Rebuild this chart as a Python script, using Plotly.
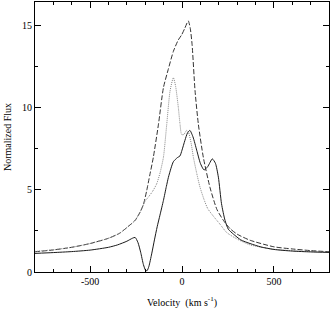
import plotly.graph_objects as go

# Solid profile
solid_v = [-800, -700, -600, -500, -400, -350, -300, -270, -255, -240, -225, -210, -198, -190, -180, -165, -150, -135, -120, -101, -85, -74, -60, -47, -25, -11, 0, 16, 30, 43, 60, 80, 100, 120, 140, 165, 182, 198, 215, 234, 252, 280, 320, 370, 430, 500, 600, 700, 800]
solid_f = [1.13, 1.18, 1.24, 1.33, 1.5, 1.65, 1.87, 2.05, 2.1, 1.8, 1.2, 0.45, 0.1, 0.08, 0.35, 1.1, 1.95, 2.75, 3.45, 4.35, 5.2, 5.75, 6.3, 6.7, 6.95, 7.05, 7.4, 8.0, 8.45, 8.6, 8.2, 7.4, 6.6, 6.2, 6.4, 6.87, 6.6, 5.76, 4.15, 3.14, 2.6, 2.3, 1.95, 1.73, 1.52, 1.37, 1.27, 1.22, 1.19]

# Dashed profile
dashed_v = [-800, -700, -600, -500, -400, -340, -300, -255, -228, -210, -192, -175, -156, -128, -101, -75, -47, -20, -2, 15, 34, 45, 55, 71, 89, 116, 152, 190, 225, 261, 300, 370, 500, 600, 700, 800]
dashed_f = [1.23, 1.34, 1.5, 1.73, 2.05, 2.35, 2.7, 3.14, 3.64, 4.1, 4.95, 5.9, 6.97, 8.98, 11.2, 12.3, 13.4, 14.1, 14.4, 14.8, 15.25, 14.8, 13.8, 11.0, 8.98, 6.97, 5.15, 3.8, 3.14, 2.64, 2.3, 1.93, 1.53, 1.4, 1.3, 1.23]

# Dotted profile
dotted_v = [-800, -700, -600, -500, -400, -340, -300, -255, -228, -201, -183, -160, -138, -120, -101, -83, -65, -47, -35, -20, -11, -2, 10, 25, 35, 50, 62, 80, 98, 120, 140, 170, 207, 243, 300, 370, 500, 600, 700, 800]
dotted_f = [1.25, 1.35, 1.5, 1.73, 2.05, 2.35, 2.7, 3.14, 3.64, 4.3, 4.55, 4.9, 5.35, 6.0, 6.97, 8.98, 11.0, 11.8, 11.3, 10.0, 9.0, 8.35, 8.35, 8.6, 8.5, 7.8, 6.97, 6.0, 5.15, 4.4, 3.85, 3.4, 2.9, 2.4, 2.0, 1.65, 1.38, 1.3, 1.24, 1.2]

x_tickvals = [-500, 0, 500]
x_ticktext = ["-500", "0", "500"]
y_tickvals = [0, 5, 10, 15]
y_ticktext = ["0", "5", "10", "15"]

FONT = "Liberation Serif, Times New Roman, serif"

fig = go.Figure()
fig.add_trace(go.Scatter(x=dashed_v, y=dashed_f, mode="lines",
                         line=dict(color="#333333", width=1, dash="5px,2px", shape="spline", smoothing=0.6)))
fig.add_trace(go.Scatter(x=dotted_v, y=dotted_f, mode="lines",
                         line=dict(color="#888888", width=1, dash="1px,1px", shape="spline", smoothing=0.6)))
fig.add_trace(go.Scatter(x=solid_v, y=solid_f, mode="lines",
                         line=dict(color="#1a1a1a", width=1, shape="spline", smoothing=0.6)))

axis_common = dict(showline=True, linecolor="black", linewidth=1, mirror="allticks",
                   ticks="inside", ticklen=6, tickwidth=1, tickcolor="black",
                   showgrid=False, zeroline=False,
                   tickfont=dict(family=FONT, size=10, color="black"))

fig.update_xaxes(range=[-800, 800], tickvals=x_tickvals, ticktext=x_ticktext,
                 minor=dict(dtick=100, ticks="inside", ticklen=3, tickcolor="black", showgrid=False),
                 title=dict(text="Velocity  (km s<sup>-1</sup>)", font=dict(family=FONT, size=10, color="black"), standoff=12),
                 **axis_common)
fig.update_yaxes(range=[0, 16.4], tickvals=y_tickvals, ticktext=y_ticktext,
                 minor=dict(dtick=2.5, tick0=0, ticks="inside", ticklen=3, tickcolor="black", showgrid=False),
                 title=dict(text="Normalized Flux", font=dict(family=FONT, size=10, color="black"), standoff=8),
                 **axis_common)

fig.update_layout(width=331, height=311, margin=dict(l=35, r=2, t=2, b=39, autoexpand=False),
                  plot_bgcolor="white", paper_bgcolor="white", showlegend=False)

fig.write_html("out.html", config={"displayModeBar": False},
               post_script="document.body.style.margin='0';document.body.style.overflow='hidden';")
